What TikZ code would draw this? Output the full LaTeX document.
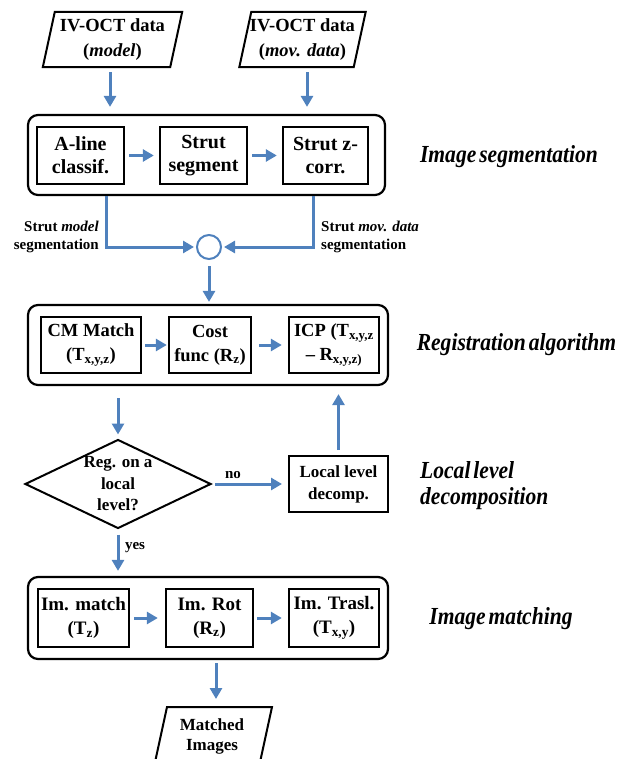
\documentclass[tikz,border=0pt]{standalone}
\usepackage{fontspec}
\setmainfont{Liberation Serif}
\newfontfamily\sidefont[FakeStretch=0.88,WordSpace=0.55]{Liberation Serif}
\usetikzlibrary{arrows.meta,shapes.geometric}
\definecolor{arrowblue}{HTML}{4F81BD}
\tikzset{
  container/.style={draw=black, line width=2.2pt, rounded corners=10pt, inner sep=0pt},
  stage/.style={draw=black, line width=2.4pt, inner sep=0pt, align=center},
  segfont/.style={font=\fontsize{20}{23}\selectfont\bfseries},
  regfont/.style={font=\fontsize{18.5}{24}\selectfont\bfseries},
  flow/.style={draw=arrowblue, line width=3pt, -{Triangle[length=11pt,width=12pt]}},
  side/.style={font=\sidefont\fontsize{24.5}{25.5}\selectfont\bfseries\itshape, align=left, inner sep=0pt},
  note/.style={font=\fontsize{15}{18}\selectfont\bfseries, inner sep=0pt},
  datain/.style={inner sep=0pt, align=center, font=\fontsize{18.5}{25}\selectfont\bfseries},
  paraline/.style={draw=black, line width=2pt, line join=miter},
}
\begin{document}
\begin{tikzpicture}[x=1pt,y=-1pt]
\useasboundingbox (0,0) rectangle (620,759);

% input data
\node[datain, minimum width=139, minimum height=55] (in1) at (112.5,39.5) {IV-OCT data\\(\textit{model})};
\node[datain, minimum width=126, minimum height=55] (in2) at (302.5,39.5) {IV-OCT data\\(\textit{mov. data})};
\draw[paraline] ([xshift=12pt]in1.north west) -- (in1.north east) -- ([xshift=-12pt]in1.south east) -- (in1.south west) -- cycle;
\draw[paraline] ([xshift=12pt]in2.north west) -- (in2.north east) -- ([xshift=-12pt]in2.south east) -- (in2.south west) -- cycle;

% image segmentation
\node[container, minimum width=357, minimum height=80] (segbox) at (206.5,155) {};
\node[stage, segfont, minimum width=87, minimum height=57] (aline) at (80.5,155.5) {A-line\\classif.};
\node[stage, segfont, minimum width=87, minimum height=57] (sseg) at (203.5,155.5) {Strut\\segment};
\node[stage, segfont, minimum width=85, minimum height=57] (szc) at (325.5,155.5) {Strut z-\\corr.};

\draw[flow, shorten <=5pt, shorten >=7pt] ([xshift=-2.5pt]in1.south) -- ([xshift=-2.5pt]in1.south |- segbox.north);
\draw[flow, shorten <=5pt, shorten >=7pt] ([xshift=4.5pt]in2.south) -- ([xshift=4.5pt]in2.south |- segbox.north);
\draw[flow, shorten <=4pt, shorten >=5pt] (aline) -- (sseg);
\draw[flow, shorten <=4pt, shorten >=5pt] (sseg) -- (szc);

% merge
\node[circle, draw=arrowblue, line width=2pt, minimum size=24pt, inner sep=0pt] (circ) at (209,247) {};
\draw[flow, shorten >=2pt] ([xshift=-100.5pt]segbox.south) |- (circ.west);
\draw[flow, shorten >=2pt] ([xshift=106.5pt]segbox.south) |- (circ.east);
\node[note, align=right, anchor=east] (lblL) at (99,237) {Strut \textit{model}\\segmentation};
\node[note, align=left, anchor=west] (lblR) at (321,237) {Strut \textit{mov. data}\\segmentation};

% registration
\node[container, minimum width=360, minimum height=80] (regbox) at (208,345) {};
\node[stage, regfont, minimum width=100, minimum height=56] (cm) at (91,345) {CM Match\\(T\textsubscript{x,y,z})};
\node[stage, regfont, minimum width=82, minimum height=56] (cost) at (210,345) {Cost\\func (R\textsubscript{z})};
\node[stage, regfont, minimum width=90, minimum height=56] (icp) at (334,345) {ICP (T\textsubscript{x,y,z}\\– R\textsubscript{x,y,z)}};
\draw[flow, shorten <=6pt, shorten >=2pt] (circ.south) -- (circ.south |- regbox.north);
\draw[flow, shorten <=3pt, shorten >=1pt] (cm) -- (cost);
\draw[flow, shorten <=7pt, shorten >=6pt] (cost) -- (icp);

% decision
\node[diamond, draw=black, line width=2pt, minimum width=186pt, minimum height=89pt, inner sep=0pt] (dec) at (118,484) {};
\node[font=\fontsize{17}{21.5}\selectfont\bfseries, align=center, inner sep=0pt] (dectext) at (dec.center) {Reg. on a\\local\\level?};
\node[stage, font=\fontsize{17}{22}\selectfont\bfseries, line width=2pt, minimum width=99, minimum height=56] (local) at (338.5,484) {Local level\\decomp.};
\draw[flow, shorten <=12pt, shorten >=4pt] (dec.north |- regbox.south) -- (dec.north);
\draw[flow, shorten <=3pt, shorten >=6pt] (dec.east) -- (local.west);
\draw[flow, shorten <=5pt, shorten >=8pt] (local.north) -- (local.north |- regbox.south);
\node[note] (nolbl) at (233,475) {no};

% image matching
\node[container, minimum width=360, minimum height=82] (matchbox) at (208,618) {};
\node[stage, font=\fontsize{19}{24}\selectfont\bfseries, minimum width=91, minimum height=58] (imm) at (83.5,618) {Im. match\\(T\textsubscript{z})};
\node[stage, font=\fontsize{19}{24}\selectfont\bfseries, minimum width=87, minimum height=58] (imr) at (209.5,618) {Im. Rot\\(R\textsubscript{z})};
\node[stage, font=\fontsize{19}{24}\selectfont\bfseries, minimum width=90, minimum height=58] (imt) at (334,618) {Im. Trasl.\\(T\textsubscript{x,y})};
\draw[flow, shorten <=5pt, shorten >=5pt] (dec.south) -- (dec.south |- matchbox.north);
\node[note] (yeslbl) at (135,548) {yes};
\draw[flow, shorten <=4pt, shorten >=7pt] (imm) -- (imr);
\draw[flow, shorten <=3pt, shorten >=6pt] (imr) -- (imt);

% output
\coordinate (outtop) at (216,707);
\node[datain, font=\fontsize{17}{20}\selectfont\bfseries] (out) at (212,736) {Matched\\Images};
\draw[paraline] (155.7,759) -- (167,707) -- (272,707) -- (260.7,759);
\draw[flow, shorten <=3pt, shorten >=8pt] (matchbox.south -| outtop) -- (outtop);

% side labels
\node[side] (l1) at (509,157) {Image segmentation};
\node[side] (l2) at (516.5,345) {Registration algorithm};
\node[side, anchor=west] (l3) at (420,485.5) {Local level\\decomposition};
\node[side] (l4) at (501,619) {Image matching};
\end{tikzpicture}
\end{document}
